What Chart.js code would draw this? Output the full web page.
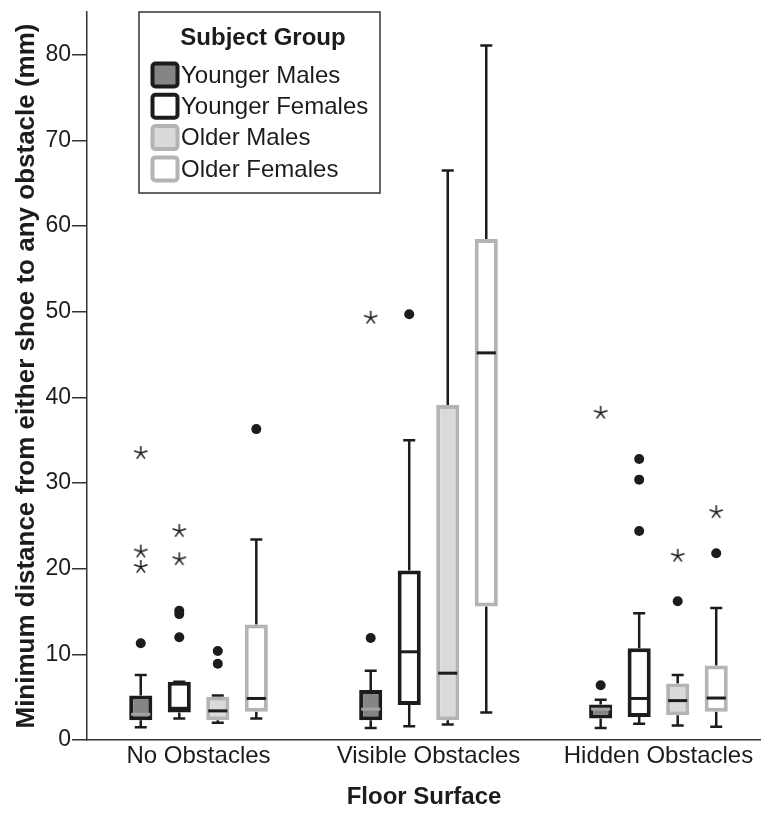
<!DOCTYPE html>
<html>
<head>
<meta charset="utf-8">
<script src="https://cdn.jsdelivr.net/npm/chart.js@4.4.0/dist/chart.umd.min.js"></script>
<style>
  html, body { margin: 0; padding: 0; background: #fff; overflow: hidden; }
  #wrap { width: 761px; height: 813px; position: relative; }
</style>
</head>
<body>
<div id="wrap"><canvas id="chart"></canvas></div>
<script>
const surfaces = ['No Obstacles', 'Visible Obstacles', 'Hidden Obstacles'];
const groups = ['Younger Males', 'Younger Females', 'Older Males', 'Older Females'];
const yTicks = [0, 10, 20, 30, 40, 50, 60, 70, 80];

// one row per surface: [whisker low, q1, median, q3, whisker high]
const youngerMales   = [[1.5, 2.3, 3.0, 5.2, 7.6], [1.4, 2.3, 3.6, 5.85, 8.1], [1.4, 2.5, 3.6, 4.15, 4.7]];
const youngerFemales = [[2.5, 3.2, 3.7, 6.8, 6.8], [1.6, 4.1, 10.3, 19.8, 35.0], [1.9, 2.7, 4.85, 10.7, 14.8]];
const olderMales     = [[2.0, 2.3, 3.4, 5.05, 5.2], [1.8, 2.3, 7.8, 39.1, 66.5], [1.7, 2.9, 4.6, 6.6, 7.6]];
const olderFemales   = [[2.5, 3.3, 4.85, 13.5, 23.4], [3.2, 15.6, 45.2, 58.5, 81.1], [1.55, 3.3, 4.9, 8.7, 15.4]];

// outliers (dots) and extremes (stars), per surface
const youngerMalesOut   = [[11.3], [11.9], [6.4]];
const youngerFemalesOut = [[15.1, 14.7, 12.0], [49.7], [32.8, 30.4, 24.4]];
const olderMalesOut     = [[10.4, 8.9], [], [16.2]];
const olderFemalesOut   = [[36.3], [], [21.8]];
const youngerMalesExt   = [[33.5, 22.0, 20.2], [49.3], [38.2]];
const youngerFemalesExt = [[24.4, 21.1], [], []];
const olderMalesExt     = [[], [], [21.5]];
const olderFemalesExt   = [[], [], [26.6]];

const boxStats = [youngerMales, youngerFemales, olderMales, olderFemales];
const outliers = [youngerMalesOut, youngerFemalesOut, olderMalesOut, olderFemalesOut];
const extremes = [youngerMalesExt, youngerFemalesExt, olderMalesExt, olderFemalesExt];

const fills   = ['#858585', '#ffffff', '#dadada', '#ffffff'];
const borders = ['#1c1c1c', '#1c1c1c', '#b4b4b4', '#b4b4b4'];
const medianColors = ['#a3a3a3', '#1c1c1c', '#1c1c1c', '#1c1c1c'];
const ink = '#1c1c1c';
const FONT = "'Liberation Sans', Arial, sans-serif";

const catPct = 0.67;
// x offset of each group's box inside a surface, same as the bar grouping
const groupOffset = k => (k - 1.5) * catPct / groups.length;

// little five-armed asterisk used for extreme values
function makeStar() {
  const c = document.createElement('canvas');
  c.width = 16; c.height = 16;
  const g = c.getContext('2d');
  g.strokeStyle = ink;
  g.lineWidth = 1.5;
  for (let a = 0; a < 5; a++) {
    const ang = -Math.PI / 2 + a * 2 * Math.PI / 5;
    g.beginPath();
    g.moveTo(8, 8);
    g.lineTo(8 + 7 * Math.cos(ang), 8 + 7 * Math.sin(ang));
    g.stroke();
  }
  return c;
}
const star = makeStar();

const datasets = [];
groups.forEach((name, k) => {
  datasets.push({
    type: 'bar',
    label: name,
    data: boxStats[k].map((s, i) => ({ x: i, y: [s[1], s[3]] })),
    backgroundColor: fills[k],
    borderColor: borders[k],
    borderWidth: 4,
    borderSkipped: false,
    categoryPercentage: catPct,
    barPercentage: 0.6
  });
});
groups.forEach((name, k) => {
  const pts = [];
  outliers[k].forEach((vals, i) => vals.forEach(v => pts.push({ x: i + groupOffset(k), y: v })));
  datasets.push({
    type: 'scatter',
    label: name + ' outliers',
    data: pts,
    pointStyle: 'circle',
    pointRadius: 5,
    backgroundColor: ink,
    borderWidth: 0
  });
});
groups.forEach((name, k) => {
  const pts = [];
  extremes[k].forEach((vals, i) => vals.forEach(v => pts.push({ x: i + groupOffset(k), y: v })));
  datasets.push({
    type: 'scatter',
    label: name + ' extremes',
    data: pts,
    pointStyle: star,
    pointRadius: 8,
    borderWidth: 0
  });
});

// whiskers behind the boxes, medians on top
const boxParts = {
  id: 'boxParts',
  beforeDatasetsDraw(chart) {
    const ctx = chart.ctx;
    const ys = chart.scales.y;
    ctx.save();
    ctx.strokeStyle = ink;
    ctx.lineWidth = 2.5;
    groups.forEach((g, k) => {
      chart.getDatasetMeta(k).data.forEach((el, i) => {
        const s = boxStats[k][i];
        const x = el.x;
        const lo = ys.getPixelForValue(s[0]);
        const q1 = ys.getPixelForValue(s[1]);
        const q3 = ys.getPixelForValue(s[3]);
        const hi = ys.getPixelForValue(s[4]);
        ctx.beginPath();
        ctx.moveTo(x, q1); ctx.lineTo(x, lo);
        ctx.moveTo(x - 6, lo); ctx.lineTo(x + 6, lo);
        ctx.moveTo(x, q3); ctx.lineTo(x, hi);
        ctx.moveTo(x - 6, hi); ctx.lineTo(x + 6, hi);
        ctx.stroke();
      });
    });
    ctx.restore();
  },
  afterDatasetsDraw(chart) {
    const ctx = chart.ctx;
    const ys = chart.scales.y;
    ctx.save();
    ctx.lineWidth = 3;
    groups.forEach((g, k) => {
      ctx.strokeStyle = medianColors[k];
      chart.getDatasetMeta(k).data.forEach((el, i) => {
        const m = ys.getPixelForValue(boxStats[k][i][2]);
        ctx.beginPath();
        ctx.moveTo(el.x - el.width / 2 + 2, m);
        ctx.lineTo(el.x + el.width / 2 - 2, m);
        ctx.stroke();
      });
    });
    ctx.restore();
  }
};

function roundRect(ctx, x, y, w, h, r) {
  ctx.beginPath();
  ctx.moveTo(x + r, y);
  ctx.arcTo(x + w, y, x + w, y + h, r);
  ctx.arcTo(x + w, y + h, x, y + h, r);
  ctx.arcTo(x, y + h, x, y, r);
  ctx.arcTo(x, y, x + w, y, r);
  ctx.closePath();
}

// legend box in the top-left of the plot
const groupLegend = {
  id: 'groupLegend',
  afterDraw(chart) {
    const ctx = chart.ctx;
    const left = chart.chartArea.left + 52;
    const top = 12;
    ctx.save();
    ctx.fillStyle = '#fff';
    ctx.fillRect(left, top, 241, 181);
    ctx.strokeStyle = '#333';
    ctx.lineWidth = 1.5;
    ctx.strokeRect(left, top, 241, 181);
    ctx.fillStyle = ink;
    ctx.textBaseline = 'middle';
    ctx.textAlign = 'center';
    ctx.font = 'bold 24px ' + FONT;
    ctx.fillText('Subject Group', left + 124, top + 26);
    ctx.textAlign = 'left';
    ctx.font = '24px ' + FONT;
    groups.forEach((name, k) => {
      const cy = top + 63 + k * 31.3;
      roundRect(ctx, left + 13.5, cy - 11.5, 25, 23, 3);
      ctx.fillStyle = fills[k];
      ctx.fill();
      ctx.strokeStyle = borders[k];
      ctx.lineWidth = 4;
      ctx.stroke();
      ctx.fillStyle = ink;
      ctx.fillText(name, left + 42, cy + 1);
    });
    ctx.restore();
  }
};

new Chart(document.getElementById('chart'), {
  type: 'bar',
  data: { datasets },
  options: {
    responsive: true,
    maintainAspectRatio: false,
    animation: false,
    layout: { autoPadding: false, padding: { top: 12, left: 0, right: 0, bottom: 0 } },
    plugins: {
      legend: { display: false },
      tooltip: { enabled: false }
    },
    scales: {
      x: {
        type: 'linear',
        offset: false,
        min: -0.485,
        max: 2.446,
        afterBuildTicks: ax => { ax.ticks = surfaces.map((s, i) => ({ value: i })); },
        afterFit: ax => { ax.height = 73; ax.paddingLeft = 0; ax.paddingRight = 0; },
        grid: { offset: false, drawOnChartArea: false, drawTicks: false },
        border: { color: '#333', width: 1.5 },
        ticks: {
          autoSkip: false, maxRotation: 0, padding: 2,
          color: ink, font: { family: FONT, size: 24 },
          callback: v => surfaces[v]
        },
        title: {
          display: true, text: 'Floor Surface', color: ink,
          font: { family: FONT, size: 24, weight: 'bold' },
          padding: { top: 0, bottom: 1 }
        }
      },
      y: {
        min: 0,
        max: 85,
        afterBuildTicks: ax => { ax.ticks = yTicks.map(v => ({ value: v })); },
        afterFit: ax => { ax.width = 87; ax.paddingTop = 0; },
        grid: { drawOnChartArea: false, tickLength: 15, color: '#333', lineWidth: 1.5 },
        border: { color: '#333', width: 1.5 },
        ticks: { padding: 1, color: ink, font: { family: FONT, size: 23 } },
        title: {
          display: true, text: 'Minimum distance from either shoe to any obstacle (mm)', color: ink,
          font: { family: FONT, size: 26, weight: 'bold' },
          padding: { top: 11, bottom: 0 }
        }
      }
    }
  },
  plugins: [boxParts, groupLegend]
});
</script>
</body>
</html>
